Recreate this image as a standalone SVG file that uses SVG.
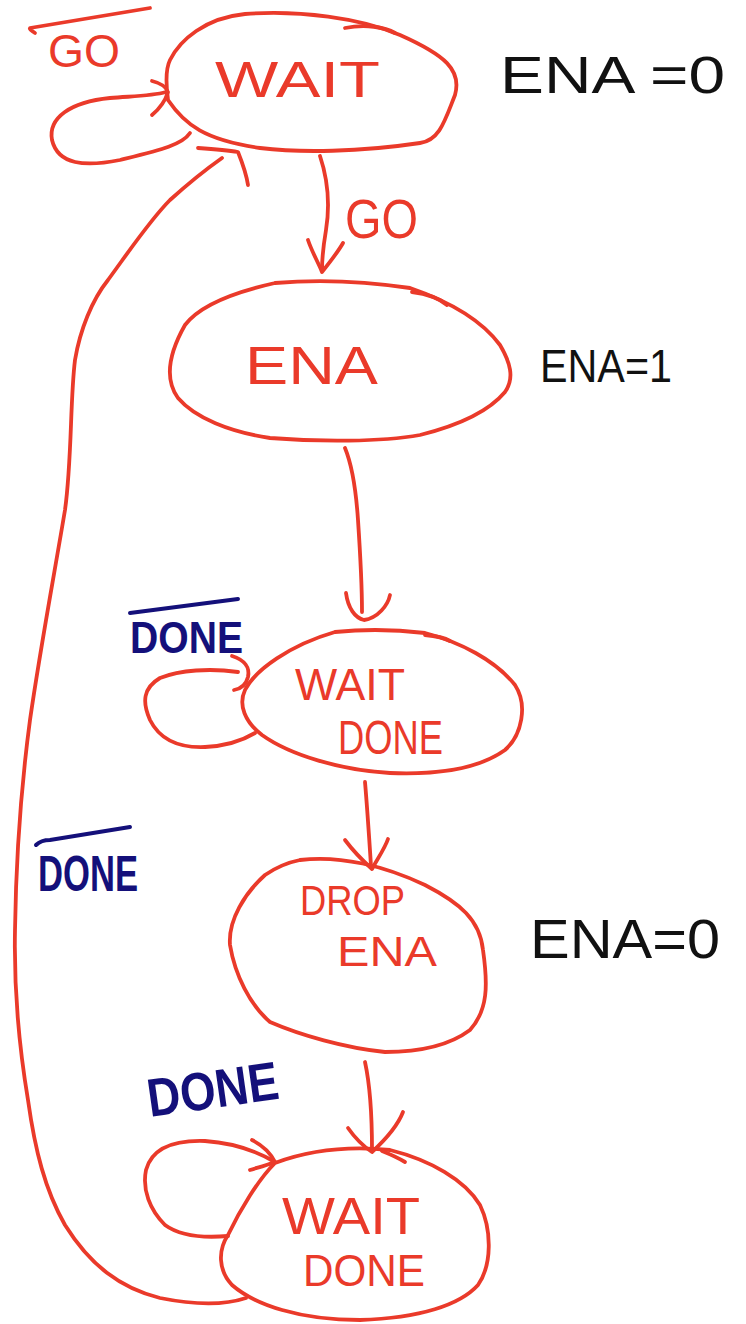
<svg xmlns="http://www.w3.org/2000/svg" width="746" height="1324" viewBox="0 0 746 1324">
<style>
.r{fill:none;stroke:#EA3A2A;stroke-width:3.8;stroke-linecap:round;stroke-linejoin:round}
.n{fill:none;stroke:#14107A;stroke-width:4;stroke-linecap:round}
.tr{fill:#EA3A2A;font-family:"Liberation Sans",Arial,sans-serif}
.tb{fill:#111;font-family:"Liberation Sans",Arial,sans-serif}
.tn{fill:#14107A;font-family:"Liberation Sans",Arial,sans-serif;font-weight:bold}
</style>
<rect width="746" height="1324" fill="#fff"/>
<g id="wait">
<path class="r" d="M168,100 C185,125 205,140 260,148 C300,153 360,152 420,143 C440,140 445,120 455,95 C462,70 445,55 400,35 C360,18 300,10 245,14 C205,18 180,40 170,60 C165,70 166,85 168,100"/>
<path class="r" d="M345,28 C365,24 385,27 395,33"/>
<text class="tr" x="215" y="97" font-size="50" textLength="165" lengthAdjust="spacingAndGlyphs">WAIT</text>
</g>
<g id="ena">
<path class="r" d="M275,283 C320,279 370,282 410,288 C445,300 480,318 500,345 C510,362 515,378 505,392 C490,410 460,425 420,435 C380,442 320,442 270,438 C230,432 195,418 178,398 C165,380 168,355 185,325 C200,305 235,292 275,283"/>
<path class="r" d="M412,292 C428,294 440,299 447,305"/>
<text class="tr" x="245" y="384" font-size="54" textLength="133" lengthAdjust="spacingAndGlyphs">ENA</text>
</g>
<g id="waitdone1">
<path class="r" d="M335,632 C365,629 400,630 425,633 C460,642 495,660 515,685 C528,705 522,735 505,750 C480,768 440,775 390,773 C340,770 290,755 262,735 C245,722 238,705 245,690 C255,670 290,645 335,632"/>
<path class="r" d="M425,635 C437,636 445,638 450,641"/>
<text class="tr" x="295" y="700" font-size="44" textLength="110" lengthAdjust="spacingAndGlyphs">WAIT</text>
<text class="tr" x="338" y="754" font-size="48" textLength="105" lengthAdjust="spacingAndGlyphs">DONE</text>
</g>
<g id="dropena">
<path class="r" d="M300,860 C340,855 385,866 425,885 C460,903 480,920 483,950 C488,985 488,1010 470,1030 C450,1045 420,1052 385,1052 C345,1048 300,1035 270,1022 C250,1005 235,975 230,945 C228,920 245,893 265,875 C278,866 290,862 300,860"/>
<text class="tr" x="300" y="915" font-size="43" textLength="105" lengthAdjust="spacingAndGlyphs">DROP</text>
<text class="tr" x="337" y="966" font-size="43" textLength="100" lengthAdjust="spacingAndGlyphs">ENA</text>
</g>
<g id="waitdone2">
<path class="r" d="M275,1163 C310,1150 350,1146 390,1150 C430,1160 465,1180 480,1205 C492,1230 492,1265 478,1285 C460,1305 420,1318 360,1320 C300,1320 255,1305 232,1285 C218,1270 218,1250 228,1235 C240,1210 258,1180 275,1163"/>
<text class="tr" x="282" y="1234" font-size="52" textLength="138" lengthAdjust="spacingAndGlyphs">WAIT</text>
<text class="tr" x="303" y="1286" font-size="44" textLength="122" lengthAdjust="spacingAndGlyphs">DONE</text>
</g>
<g id="connectors">
<path class="r" d="M190,133 C182,145 160,150 120,160 C85,167 58,165 52,140 C48,118 70,102 110,98 C135,96 152,96 166,92"/>
<path class="r" d="M152,81 C160,83 166,86 168,92 C165,102 158,110 152,115"/>
<path class="r" d="M320,156 C328,180 330,205 326,230 C323,248 322,260 322,270"/>
<path class="r" d="M308,240 C312,252 318,262 322,272 C330,262 338,252 343,243"/>
<path class="r" d="M345,448 C352,465 356,490 358,520 C360,550 362,585 362,612"/>
<path class="r" d="M346,593 C348,608 355,618 364,620 C378,618 388,605 390,595"/>
<path class="r" d="M255,733 C240,742 225,746 205,747 C180,748 160,740 150,720 C142,702 143,688 160,678 C180,670 210,668 238,672"/>
<path class="r" d="M232,656 C245,660 250,668 248,677 C246,685 240,689 234,690"/>
<path class="r" d="M365,782 C367,805 369,835 371,866"/>
<path class="r" d="M345,840 C354,852 362,860 372,869 C378,858 385,848 388,839"/>
<path class="r" d="M365,1062 C370,1085 372,1110 372,1150"/>
<path class="r" d="M348,1128 C355,1138 363,1146 372,1152 C385,1140 398,1125 403,1112"/>
<path class="r" d="M382,1151 C392,1155 400,1159 405,1162"/>
<path class="r" d="M228,1236 C205,1238 180,1236 165,1225 C150,1210 142,1190 146,1170 C152,1148 175,1140 205,1141 C235,1143 258,1152 275,1162"/>
<path class="r" d="M252,1140 C262,1145 270,1152 275,1162 C265,1166 256,1168 250,1170"/>
<path class="r" d="M246,1298 C225,1305 195,1305 160,1298 C120,1288 90,1265 65,1225 C45,1190 35,1150 28,1100 C18,1040 14,980 15,930 C16,860 22,780 30,720 C40,650 55,570 65,510 C72,460 70,400 75,360 C80,330 92,300 108,280 C130,250 150,220 170,200 C190,182 205,170 222,158"/>
<path class="r" d="M198,148 C212,149 226,150 238,152 C242,162 246,172 248,185"/>
</g>
<g id="labels">
<path class="r" d="M35,33 C32,31 29,29 30,28 L150,8"/>
<text class="tr" x="48" y="67" font-size="46" textLength="72" lengthAdjust="spacingAndGlyphs">GO</text>
<text class="tr" x="345" y="238" font-size="56" textLength="73" lengthAdjust="spacingAndGlyphs">GO</text>
<text class="tb" x="500" y="93" font-size="52" textLength="225" lengthAdjust="spacingAndGlyphs">ENA =0</text>
<text class="tb" x="540" y="382" font-size="46" textLength="132" lengthAdjust="spacingAndGlyphs">ENA=1</text>
<text class="tb" x="530" y="958" font-size="56" textLength="190" lengthAdjust="spacingAndGlyphs">ENA=0</text>
<path class="n" d="M130,613 L238,599"/>
<text class="tn" x="130" y="653" font-size="44" textLength="113" lengthAdjust="spacingAndGlyphs">DONE</text>
<path class="n" d="M36,845 C40,841 45,840 50,840 L130,827"/>
<text class="tn" x="38" y="891" font-size="50" textLength="100" lengthAdjust="spacingAndGlyphs">DONE</text>
<text class="tn" x="150" y="1117" font-size="54" textLength="132" lengthAdjust="spacingAndGlyphs" transform="rotate(-8 150 1117)">DONE</text>
</g>
</svg>
